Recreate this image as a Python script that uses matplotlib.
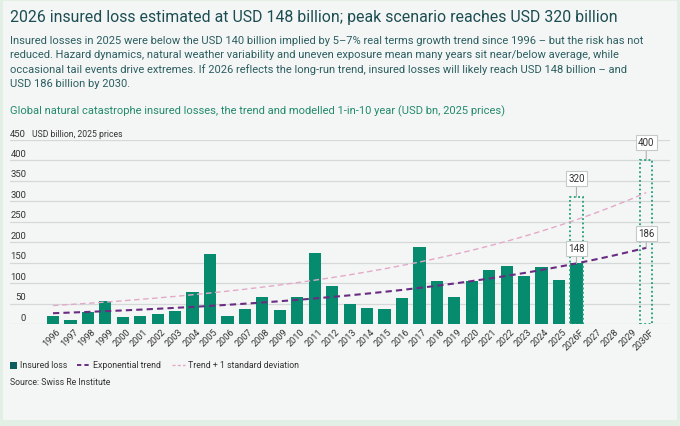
import matplotlib
matplotlib.use('Agg')
import matplotlib.pyplot as plt
import matplotlib.transforms as mtransforms
from matplotlib.patches import Rectangle
from matplotlib.lines import Line2D

plt.rcParams['font.family'] = ['Roboto', 'DejaVu Sans']

# ------------------------------------------------------------
# Data
# ------------------------------------------------------------
years = [str(y) for y in range(1996, 2026)] + ['2026F', '2027', '2028', '2029', '2030F']

insured_loss = [19, 9, 30, 57, 16, 19, 25, 31, 79, 170,
                20, 36, 66, 33, 67, 174, 92, 50, 40, 37,
                63, 189, 105, 67, 106, 133, 141, 118, 140, 107,
                148]

exp_trend = [26.3, 27.9, 29.5, 31.3, 33.1, 35.1, 37.2, 39.4, 41.7, 44.2,
             46.8, 49.6, 52.5, 55.6, 58.9, 62.4, 66.1, 70.0, 74.2, 78.6,
             83.2, 88.1, 93.4, 98.9, 104.8, 111.0, 117.6, 124.5, 131.9, 139.7,
             148.0, 156.8, 166.0, 175.9, 186.0]

trend_plus_sd = [45.0, 47.7, 50.5, 53.5, 56.7, 60.1, 63.6, 67.4, 71.4, 75.7,
                 80.2, 84.9, 90.0, 95.3, 101.0, 107.0, 113.4, 120.1, 127.3, 134.8,
                 142.9, 151.3, 160.3, 169.9, 180.0, 190.7, 202.0, 214.0, 226.8, 240.3,
                 254.6, 269.7, 285.8, 302.8, 320.8]

# modelled 1-in-10 year scenarios (dotted boxes)
scenario_idx = [30, 34]
scenario_val = [310, 400]
scenario_lbl = ['320', '400']

yticks = [0, 50, 100, 150, 200, 250, 300, 350, 400, 450]

# ------------------------------------------------------------
# Colours
# ------------------------------------------------------------
BAR = '#078b6e'
BOX = '#1f9e7a'
PURPLE = '#6a2c82'
PINK = '#e3a9c9'
GRID = '#d4d8d7'
TXT = '#333333'

W, H = 680, 427
fig = plt.figure(figsize=(W / 100, H / 100), dpi=100)
fig.patch.set_facecolor('#e2efe4')
fig.patches.append(Rectangle((3 / W, 1 - 421 / H), 674 / W, 419 / H,
                             transform=fig.transFigure, facecolor='#f4f6f5',
                             edgecolor='none', zorder=-10))

# ------------------------------------------------------------
# Header text
# ------------------------------------------------------------
fig.text(10 / W, 1 - 17.5 / H,
         '2026 insured loss estimated at USD 148 billion; peak scenario reaches USD 320 billion',
         fontsize=11.4, color='#1c4d52', va='center', ha='left')

body = ['Insured losses in 2025 were below the USD 140 billion implied by 5\u20137% real terms growth trend since 1996 \u2013 but the risk has not',
        'reduced. Hazard dynamics, natural weather variability and uneven exposure mean many years sit near/below average, while',
        'occasional tail events drive extremes. If 2026 reflects the long-run trend, insured losses will likely reach USD 148 billion \u2013 and',
        'USD 186 billion by 2030.']
for i, line in enumerate(body):
    fig.text(10 / W, 1 - (40.7 + 14.3 * i) / H, line,
             fontsize=8.05, color='#2c5e61', va='center', ha='left')

fig.text(10 / W, 1 - 111.7 / H,
         'Global natural catastrophe insured losses, the trend and modelled 1-in-10 year (USD bn, 2025 prices)',
         fontsize=8.05, color='#238a6c', va='center', ha='left')

# ------------------------------------------------------------
# Chart
# ------------------------------------------------------------
ax = fig.add_axes([10 / W, 1 - 325 / H, 660 / W, (325 - 140.7) / H])
ax.set_facecolor('none')
for s in ax.spines.values():
    s.set_visible(False)

x = list(range(len(years)))
ax.set_xlim(-2.464, 35.36)
ax.set_ylim(0, 450)

for v in yticks:
    ax.axhline(v, color=GRID, lw=0.9, zorder=1)
    ax.annotate(str(v), xy=(0.0245, v), xycoords=('axes fraction', 'data'),
                xytext=(0, 4.8), textcoords='offset points',
                ha='right', va='center', fontsize=6.8, color=TXT)
ax.annotate('USD billion, 2025 prices', xy=(21.5 / 660, 450),
            xycoords=('axes fraction', 'data'), xytext=(0, 4.8),
            textcoords='offset points', ha='left', va='center',
            fontsize=6.2, color=TXT)

ax.bar(x[:len(insured_loss)], insured_loss, width=0.7, color=BAR, zorder=3)

for i, v in zip(scenario_idx, scenario_val):
    ax.bar(i, v, width=0.7, fill=False, edgecolor=BOX, linestyle=(0, (1, 1.4)),
           linewidth=1.3, zorder=3)

ax.plot(x, trend_plus_sd, color=PINK, lw=1.0, ls=(0, (4, 2.5)), zorder=4)
ax.plot(x, exp_trend, color=PURPLE, lw=1.5, ls=(0, (3, 2)), zorder=5)

label_box = dict(boxstyle='square,pad=0.25', facecolor='white',
                 edgecolor='#c5c9c8', linewidth=0.8)
line_props = dict(arrowstyle='-', color='#aeb3b2', lw=0.8, shrinkA=0, shrinkB=0)

callouts = [(30, scenario_val[0], scenario_lbl[0], 13.5),
            (30, insured_loss[30], '148', 10.8),
            (34, scenario_val[1], scenario_lbl[1], 13.0),
            (34, exp_trend[34], '186', 10.5)]
for cx, cy, txt, off in callouts:
    ax.annotate(txt, xy=(cx, cy), xytext=(0, off), textcoords='offset points',
                ha='center', va='center', fontsize=7.0, color=TXT,
                bbox=label_box, arrowprops=line_props, zorder=6,
                annotation_clip=False)

ax.set_yticks([])
ax.set_xticks(x)
ax.set_xticklabels(years, rotation=45, ha='right', rotation_mode='anchor',
                   fontsize=6.6, color=TXT)
ax.tick_params(axis='x', length=0, pad=2)
shift = mtransforms.ScaledTranslation(3 / 100, 0, fig.dpi_scale_trans)
for lbl in ax.get_xticklabels():
    lbl.set_transform(lbl.get_transform() + shift)

# ------------------------------------------------------------
# Legend (drawn by hand to match the reference layout)
# ------------------------------------------------------------
ly = 1 - 366 / H
fig.patches.append(Rectangle((10 / W, ly - 3.5 / H), 7 / W, 7 / H,
                             transform=fig.transFigure, facecolor='#0d5f5f',
                             edgecolor='none'))
fig.text(20.5 / W, ly, 'Insured loss', fontsize=6.3, color=TXT, va='center')
fig.lines.append(Line2D([77 / W, 90.5 / W], [ly, ly], transform=fig.transFigure,
                        color=PURPLE, lw=1.4, ls=(0, (2.2, 1.6))))
fig.text(93.3 / W, ly, 'Exponential trend', fontsize=6.3, color=TXT, va='center')
fig.lines.append(Line2D([171.7 / W, 185.5 / W], [ly, ly], transform=fig.transFigure,
                        color=PINK, lw=1.0, ls=(0, (2.2, 1.6))))
fig.text(187.7 / W, ly, 'Trend + 1 standard deviation', fontsize=6.3, color=TXT,
         va='center')

fig.text(9.5 / W, 1 - 383 / H, 'Source: Swiss Re Institute', fontsize=6.3,
         color=TXT, va='center')

fig.savefig('out.png', dpi=100, facecolor=fig.get_facecolor())
